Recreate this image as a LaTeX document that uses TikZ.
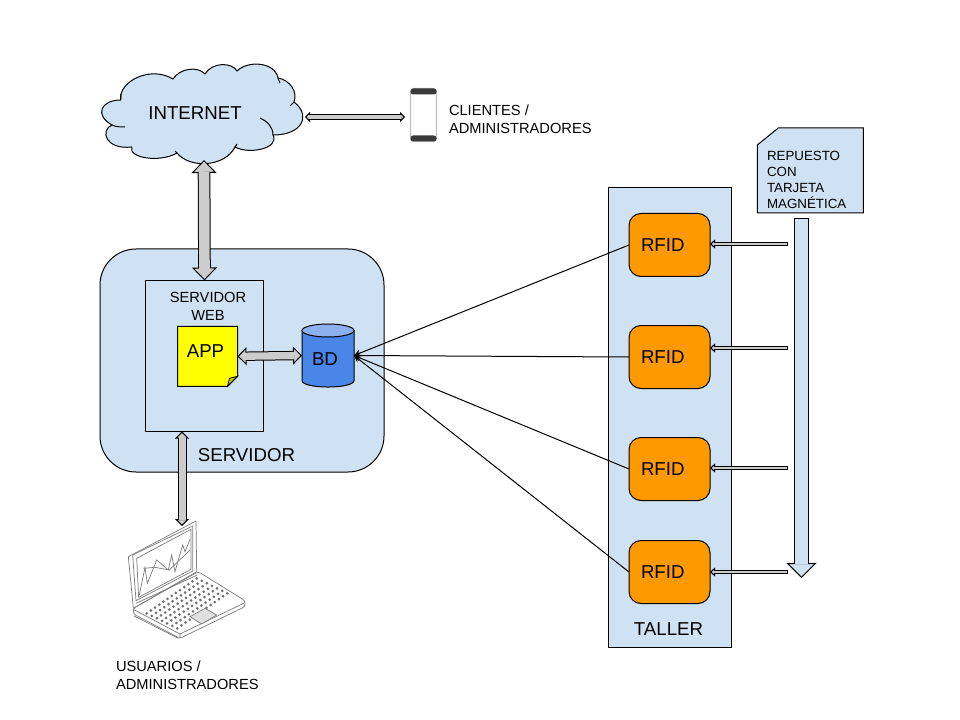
\documentclass[tikz,border=0pt]{standalone}
\usepackage{fontspec}
\setmainfont{Liberation Sans}
\usepackage{xcolor}
\usepackage{tikz}
\usetikzlibrary{arrows.meta, calc, positioning}

\definecolor{paleblue}{HTML}{CFE2F3}
\definecolor{rfidorange}{HTML}{FF9900}
\definecolor{dbblue}{HTML}{4A86E8}
\definecolor{dbtop}{HTML}{8DB0F0}
\definecolor{arrowgray}{HTML}{CCCCCC}
\definecolor{appyellow}{HTML}{FFFF00}
\definecolor{foldyellow}{HTML}{C9C900}
\definecolor{phonedark}{HTML}{3A3A3A}

\tikzset{
    every node/.style = {inner sep = 0pt, outer sep = 0pt},
    box/.style = {draw, line width = .75pt, fill = paleblue},
    reader/.style = {box, fill = rfidorange, rounded corners = 9pt,
        text width = 42.75pt, inner xsep = 9pt, minimum height = 47.25pt,
        text height = 10pt, text depth = 0pt, font = \fontsize{14}{16}\selectfont},
    caption/.style = {align = left, font = \fontsize{11}{13.5}\selectfont},
    large/.style = {font = \fontsize{14}{16}\selectfont},
    wire/.style = {line width = .75pt, -{Stealth[length = 5pt, width = 5pt]}},
    blockboth/.style n args = {4}{line width = #1,
        {Triangle[length = #3, width = #2, line width = .75pt, fill = #4]}-{Triangle[length = #3, width = #2, line width = .75pt, fill = #4]},
        postaction = {draw = #4, -, line width = #1-1.5pt, shorten < = #3-1pt, shorten > = #3-1pt}},
    blockone/.style n args = {4}{line width = #1,
        -{Triangle[length = #3, width = #2, line width = .75pt, fill = #4]},
        postaction = {draw = #4, -, line width = #1-1.5pt, shorten < = .75pt, shorten > = #3-1pt}},
    laptopline/.style = {draw = black!50, line width = .55pt}
}

\begin{document}
\begin{tikzpicture}[x = .75pt, y = -.75pt]
    \useasboundingbox (0,0) rectangle (960,720);

    % cloud
    \draw [box] (120.7,100) .. controls (118,82) and (150,65) .. (173,79)
        .. controls (180,68) and (198,66) .. (205,74)
        .. controls (212,62) and (232,62) .. (237,71)
        .. controls (248,60) and (275,62) .. (278,78)
        .. controls (290,80) and (298,92) .. (294,102)
        .. controls (311,115) and (303,135) .. (273,135)
        .. controls (280,148) and (250,155) .. (235,147)
        .. controls (225,167) and (190,169) .. (177,153)
        .. controls (160,163) and (128,158) .. (131.7,147)
        .. controls (105,150) and (100,130) .. (112,125)
        .. controls (94,115) and (101,100) .. (120.7,100) -- cycle;
    \draw [line width = .75pt] (273,135) .. controls (273,127) and (267,121) .. (260,118)
        (112,125) .. controls (116,127) and (121,127) .. (125,127)
        (120.7,100) -- (121,94)
        (278,78) -- (280,83)
        (294,102) -- (290,106)
        (177,153) -- (175,151)
        (235,147) -- (237,144);
    \node (internet) [minimum width = 147pt, minimum height = 71.25pt] at (204,112.5) {};
    \node (internettext) [large] at (195,113) {INTERNET};

    % phone
    \node (phone) [draw = black!25, line width = 1pt, fill = white, rounded corners = 2.5pt,
        minimum width = 19.5pt, minimum height = 39.75pt] at (423.5,115) {};
    \fill [phonedark, rounded corners = 2pt] (phone.north west) rectangle ($(phone.north east)+(0,6)$);
    \fill [phonedark, rounded corners = 2pt] ($(phone.south west)+(0,-6)$) rectangle (phone.south east);
    \coordinate (cloudport) at (305,117);
    \coordinate (phoneport) at (405,117);
    \draw [blockboth = {4.5pt}{7.5pt}{3.75pt}{arrowgray}] (cloudport) -- (phoneport);
    \node (clients) [caption, anchor = west] at (449,119) {CLIENTES /\\ADMINISTRADORES};

    % server
    \node (server) [box, rounded corners = 27pt, minimum width = 213pt, minimum height = 167.25pt] at (242,360.5) {};
    \node (servertext) [large] at (246.5,455) {SERVIDOR};
    \node (web) [box, minimum width = 88.5pt, minimum height = 113.25pt] at (204.5,356) {};
    \node (webtext) [align = center, font = \fontsize{11}{13.5}\selectfont] at (208,306) {SERVIDOR\\WEB};
    \node (app) [minimum width = 45pt, minimum height = 45pt] at (207.5,356.3) {};
    \draw [box, fill = appyellow] (app.north west) -- (app.north east) -- ($(app.south east)+(0,-10)$)
        -- ($(app.south east)+(-10,0)$) -- (app.south west) -- cycle;
    \draw [box, fill = foldyellow, line width = .6pt] ($(app.south east)+(0,-10)$)
        -- ($(app.south east)+(-10,0)$) -- ($(app.south east)+(-8,-8)$) -- cycle;
    \node (apptext) [large] at (205.5,351.5) {APP};
    \node (bd) [minimum width = 39pt, minimum height = 47.25pt] at (328,355.5) {};
    \draw [box, fill = dbblue] ($(bd.north west)+(0,6.5)$) -- ($(bd.south west)+(0,-6.5)$)
        .. controls ($(bd.south west)+(0,2.2)$) and ($(bd.south east)+(0,2.2)$) .. ($(bd.south east)+(0,-6.5)$)
        -- ($(bd.north east)+(0,6.5)$) -- cycle;
    \draw [box, fill = dbtop] ($(bd.north)+(0,6.5)$) ellipse [x radius = 26, y radius = 6.5];
    \node (bdtext) [large] at (325,359.5) {BD};
    \draw [blockboth = {7pt}{13.5pt}{6.75pt}{arrowgray}] (app.east) -- (bd.west);

    % links to the server
    \draw [blockboth = {9.5pt}{18.75pt}{9.75pt}{arrowgray}] (internet.south) -- (web.north);
    \coordinate (laptopport) at (182,526);
    \draw [blockboth = {6.75pt}{10.5pt}{5.25pt}{arrowgray}] (laptopport |- web.south) -- (laptopport);

    % laptop
    \begin{scope}[shift = {(110,510)}, scale = 1/3]
        \draw [laptopline, line join = round] (55,140) -- (258,33) -- (260,185) -- (70,295) -- cycle;
        \draw [laptopline] (68,135) -- (248,48) -- (248,183) -- (78,272) -- cycle;
        \draw [laptopline] (80,145) -- (243,58) -- (243,178) -- (86,262) -- cycle;
        \draw [laptopline] (88,255) -- (105,172) -- (112,220) -- (140,150) -- (175,180) -- (185,135)
            -- (195,185) -- (218,105) -- (225,125) -- (240,88);
        \draw [laptopline] (100,175) -- (135,172) -- (178,180) -- (240,120);
        \draw [laptopline, rounded corners = 2pt] (70,295) -- (265,185) -- (405,272) -- (405,290) -- (210,385) -- (70,312) -- cycle;
        \draw [laptopline] (70,298) -- (210,372) -- (405,278) (210,372) -- (210,385);
        \draw [laptopline] (78,280) -- (262,195);
        \foreach \row in {0,...,6} {
            \foreach \col in {0,...,12} {
                \fill [black!55] ({110+\col*12.5+\row*15.3},{310-\col*8.75+\row*7.5}) circle (4.5);
            }
        }
        \draw [laptopline, fill = black!12] (240,320) -- (285,295) -- (320,315) -- (275,342) -- cycle;
        \draw [laptopline] (72,318) -- (205,385);
    \end{scope}
    \node (users) [caption, anchor = west] at (116,675) {USUARIOS /\\ADMINISTRADORES};

    % workshop
    \node (taller) [box, minimum width = 92.25pt, minimum height = 344.25pt] at (669.5,417.5) {};
    \node (tallertext) [large] at (668.5,629) {TALLER};
    \node (rfid1) [reader] at (669.5,245) {RFID};
    \node (rfid2) [reader, below = 36.75pt of rfid1] {RFID};
    \node (rfid3) [reader, below = 36.75pt of rfid2] {RFID};
    \node (rfid4) [reader, below = 30pt of rfid3] {RFID};
    \foreach \i in {1,...,4} {
        \draw [wire] (rfid\i.west) -- (bd.east);
    }

    % part with magnetic card
    \node (repuesto) [minimum width = 79.5pt, minimum height = 63.75pt] at (810.3,170.5) {};
    \draw [box] ($(repuesto.north west)+(21,0)$) -- (repuesto.north east) -- (repuesto.south east)
        -- (repuesto.south west) -- ($(repuesto.north west)+(0,17)$) -- cycle;
    \node (repuestotext) [align = left, anchor = north west, font = \fontsize{10}{12}\selectfont] at (767,151.5) {REPUESTO\\CON\\TARJETA\\MAGNÉTICA};
    \coordinate (flowstart) at (801.5,218);
    \coordinate (flowend) at (801.5,578);
    \draw [blockone = {11.25pt}{22.5pt}{11.25pt}{paleblue}] (flowstart) -- (flowend);
    \foreach \i/\y in {1/244,2/348,3/468,4/572} {
        \coordinate (feed\i) at (788,\y);
        \draw [blockone = {3pt}{6.75pt}{3.75pt}{arrowgray}] (feed\i) -- (rfid\i.east |- feed\i);
    }
\end{tikzpicture}
\end{document}
